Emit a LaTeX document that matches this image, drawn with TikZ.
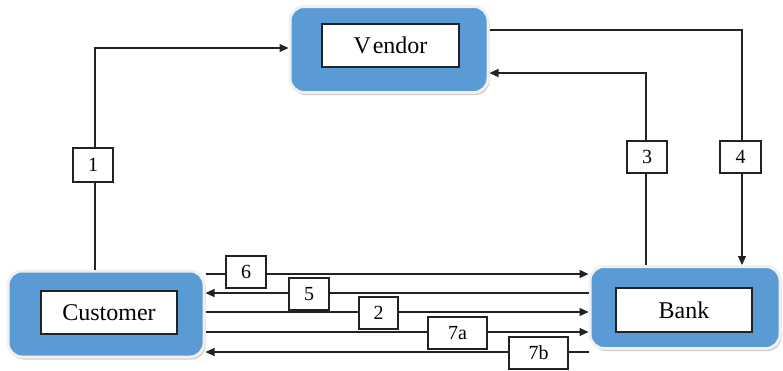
\documentclass[tikz,border=0pt]{standalone}
\usepackage{fontspec}
\setmainfont{Liberation Serif}
\usetikzlibrary{arrows.meta,shadows}
\definecolor{boxblue}{HTML}{5B9BD5}
\definecolor{ink}{HTML}{222222}
\begin{document}
\begin{tikzpicture}[x=1pt,y=-1pt,
  outerbox/.style={draw=white!94!black,line width=3pt,fill=boxblue,rounded corners=14pt,
    inner sep=0pt,
    drop shadow={shadow xshift=1.5pt,shadow yshift=-2.5pt,opacity=0.35,fill=black!60}},
  innerbox/.style={draw=ink,line width=1.1pt,fill=white,inner sep=0pt,
    font=\fontsize{24}{27}\selectfont},
  numbox/.style={draw=ink,line width=1.1pt,fill=white,inner sep=0pt,
    minimum height=32pt,font=\fontsize{20}{23}\selectfont},
  conn/.style={draw=ink,line width=1.1pt},
  arr/.style={conn,-{Triangle[length=9pt,width=8pt]}}
]
\useasboundingbox (0,0) rectangle (783,370);
% outer boxes
\node[outerbox,minimum width=198pt,minimum height=86pt] (vendor) at (389,49.5) {};
\node[outerbox,minimum width=196pt,minimum height=86pt] (customer) at (106,314) {};
\node[outerbox,minimum width=190pt,minimum height=82pt] (bank) at (685,307.5) {};
% inner labels
\node[innerbox,minimum width=137pt,minimum height=43pt] (vendorlbl) at (390.5,45.5) {V\kern2pt endor};
\node[innerbox,minimum width=136pt,minimum height=43pt] (customerlbl) at (109,312.5) {Customer};
\node[innerbox,minimum width=136pt,minimum height=44pt] (banklbl) at (684,310) {Bank};
% coordinates
\coordinate (c1) at (95,48);
\coordinate (c4) at (742,30);
\coordinate (c3) at (646,73);
\coordinate (y6) at (0,274);
\coordinate (y5) at (0,293);
\coordinate (y2) at (0,312);
\coordinate (y7a) at (0,332);
\coordinate (y7b) at (0,352);
% connectors
\draw[arr] (customer.north -| c1) -- (c1) -- (vendor.west |- c1);
\draw[arr] (vendor.east |- c4) -- (c4) -- (bank.north -| c4);
\draw[arr] (bank.north -| c3) -- (c3) -- (vendor.east |- c3);
\draw[arr] (customer.east |- y6) -- (bank.west |- y6);
\draw[arr] (bank.west |- y5) -- (customer.east |- y5);
\draw[arr] (customer.east |- y2) -- (bank.west |- y2);
\draw[arr] (customer.east |- y7a) -- (bank.west |- y7a);
\draw[arr] (bank.west |- y7b) -- (customer.east |- y7b);
% number labels
\node[numbox,minimum width=40pt,minimum height=34pt] (n1) at (93,165) {1};
\node[numbox,minimum width=40pt] (n3) at (647,157) {3};
\node[numbox,minimum width=41pt] (n4) at (740.5,157) {4};
\node[numbox,minimum width=40pt] (n6) at (246,272) {6};
\node[numbox,minimum width=40pt] (n5) at (309,294) {5};
\node[numbox,minimum width=39pt] (n2) at (378.5,313) {2};
\node[numbox,minimum width=59pt] (n7a) at (457.5,333) {7a};
\node[numbox,minimum width=59pt] (n7b) at (538.5,353) {7b};
\end{tikzpicture}
\end{document}
